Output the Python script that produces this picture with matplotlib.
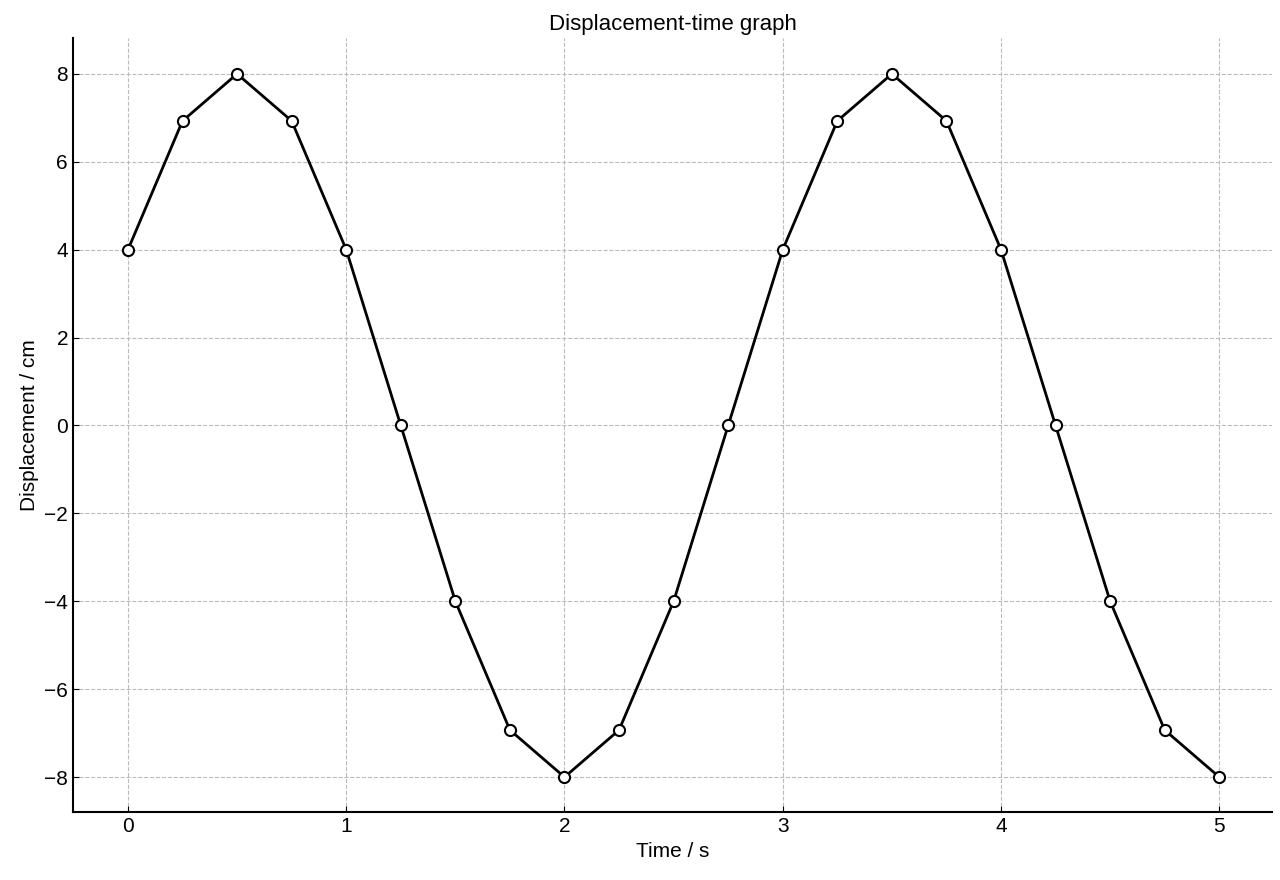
import matplotlib
matplotlib.use("Agg")
import matplotlib.pyplot as plt

time_s = [0, 0.25, 0.5, 0.75, 1.0, 1.25, 1.5, 1.75, 2.0, 2.25, 2.5, 2.75,
          3.0, 3.25, 3.5, 3.75, 4.0, 4.25, 4.5, 4.75, 5.0]
displacement_cm = [4, 6.93, 8, 6.93, 4, 0, -4, -6.93, -8, -6.93, -4, 0,
                   4, 6.93, 8, 6.93, 4, 0, -4, -6.93, -8]

plt.rcParams['font.family'] = ['Liberation Sans', 'DejaVu Sans']
plt.rcParams['font.size'] = 15

fig = plt.figure(figsize=(12.8, 8.8), dpi=100)
ax = fig.add_axes([0.057, 0.077, 0.937, 0.880])
ax.plot(time_s, displacement_cm, color='black', linewidth=2, marker='o',
        markersize=8, markerfacecolor='white', markeredgecolor='black',
        markeredgewidth=1.5, zorder=3)
ax.set_xlim(-0.252, 5.243)
ax.set_ylim(-8.80, 8.82)
ax.set_xticks([0, 1, 2, 3, 4, 5])
ax.set_yticks([-8, -6, -4, -2, 0, 2, 4, 6, 8])
ax.grid(True, linestyle='--', color='#bbbbbb', linewidth=0.8)
ax.spines['top'].set_visible(False)
ax.spines['right'].set_visible(False)
ax.spines['left'].set_linewidth(1.5)
ax.spines['bottom'].set_linewidth(1.5)
ax.tick_params(direction='in', length=4)
ax.set_xlabel('Time / s')
ax.set_ylabel('Displacement / cm')
ax.set_title('Displacement-time graph', fontsize=16)
fig.savefig('out.png', dpi=100)
